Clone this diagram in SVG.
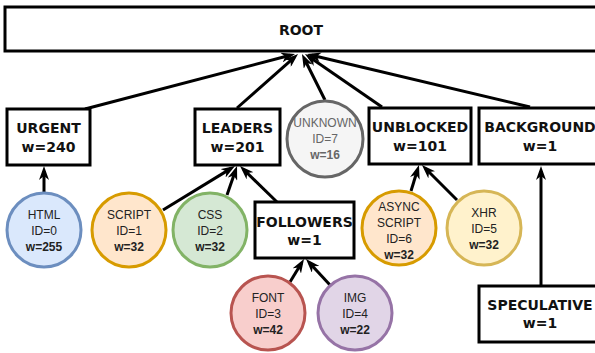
<svg xmlns="http://www.w3.org/2000/svg" width="595" height="353" viewBox="0 0 595 353">
<style>
.box{fill:#fff;stroke:#000;stroke-width:3}
.bt{font-family:"DejaVu Sans",Verdana,sans-serif;font-weight:bold;font-size:14px;fill:#111;text-anchor:middle}
.ct{font-family:"Liberation Sans",Arial,sans-serif;font-size:12px;fill:#222;text-anchor:middle}
.ct .b{font-weight:bold}
.c{stroke-width:3}
.e{stroke:#000;stroke-width:3;fill:none;marker-end:url(#ah)}
</style>
<defs>
<marker id="ah" markerUnits="userSpaceOnUse" markerWidth="14" markerHeight="10" refX="9" refY="5" orient="auto">
<path d="M0,0 L14,5 L0,10 L4,5 Z" fill="#000"/>
</marker>
</defs>
<g id="connectors">
<line class="e" x1="85" y1="109" x2="290.2" y2="55.3"/>
<line class="e" x1="237" y1="108" x2="294.3" y2="57.3"/>
<line class="e" x1="325" y1="100" x2="304.2" y2="58.5"/>
<line class="e" x1="382" y1="107" x2="309.1" y2="56.8"/>
<line class="e" x1="530" y1="107" x2="311.9" y2="55.2"/>
<line class="e" x1="44" y1="192" x2="44" y2="171"/>
<line class="e" x1="163" y1="210" x2="230.7" y2="168.6"/>
<line class="e" x1="227" y1="195" x2="235.4" y2="170.7"/>
<line class="e" x1="277" y1="202" x2="243.6" y2="169.5"/>
<line class="e" x1="411" y1="191" x2="417.5" y2="169.8"/>
<line class="e" x1="457" y1="200" x2="425.5" y2="168.5"/>
<line class="e" x1="290" y1="282" x2="301.4" y2="263.3"/>
<line class="e" x1="330" y1="285" x2="309.4" y2="262.7"/>
<line class="e" x1="541" y1="285" x2="541" y2="171"/>
</g>
<g id="root">
<rect class="box" x="5" y="7" width="600" height="44"/>
<text class="bt" x="301" y="35">ROOT</text>
</g>
<g id="urgent">
<rect class="box" x="7" y="109" width="83" height="56"/>
<text class="bt" x="48.5" y="133">URGENT</text>
<text class="bt" x="48.5" y="152">w=240</text>
</g>
<g id="leaders">
<rect class="box" x="195" y="109" width="85" height="56"/>
<text class="bt" x="237.5" y="133">LEADERS</text>
<text class="bt" x="237.5" y="152">w=201</text>
</g>
<g id="unblocked">
<rect class="box" x="369" y="108" width="102" height="56"/>
<text class="bt" x="420" y="132">UNBLOCKED</text>
<text class="bt" x="420" y="151">w=101</text>
</g>
<g id="background">
<rect class="box" x="479" y="108" width="122" height="56"/>
<text class="bt" x="540" y="132">BACKGROUND</text>
<text class="bt" x="540" y="151">w=1</text>
</g>
<g id="followers">
<rect class="box" x="255" y="202" width="99" height="56"/>
<text class="bt" x="304.5" y="227">FOLLOWERS</text>
<text class="bt" x="304.5" y="245">w=1</text>
</g>
<g id="speculative">
<rect class="box" x="479" y="286" width="122" height="56"/>
<text class="bt" x="540" y="310">SPECULATIVE</text>
<text class="bt" x="540" y="328">w=1</text>
</g>
<g id="unknown">
<circle class="c" cx="325" cy="139" r="38" fill="#f5f5f5" stroke="#666666"/>
<text class="ct" style="fill:#666" x="325"><tspan x="325" y="127">UNKNOWN</tspan><tspan x="325" y="143">ID=7</tspan><tspan class="b" x="325" y="159">w=16</tspan></text>
</g>
<g id="html">
<circle class="c" cx="44" cy="230" r="37" fill="#dae8fc" stroke="#6c8ebf"/>
<text class="ct"><tspan x="44" y="219">HTML</tspan><tspan x="44" y="235">ID=0</tspan><tspan class="b" x="44" y="251">w=255</tspan></text>
</g>
<g id="script">
<circle class="c" cx="129" cy="230" r="37" fill="#ffe6cc" stroke="#d79b00"/>
<text class="ct"><tspan x="129" y="219">SCRIPT</tspan><tspan x="129" y="235">ID=1</tspan><tspan class="b" x="129" y="251">w=32</tspan></text>
</g>
<g id="css">
<circle class="c" cx="210" cy="230" r="37" fill="#d5e8d4" stroke="#82b366"/>
<text class="ct"><tspan x="210" y="219">CSS</tspan><tspan x="210" y="235">ID=2</tspan><tspan class="b" x="210" y="251">w=32</tspan></text>
</g>
<g id="async-script">
<circle class="c" cx="399" cy="228" r="37" fill="#ffe6cc" stroke="#d79b00"/>
<text class="ct"><tspan x="399" y="211">ASYNC</tspan><tspan x="399" y="227">SCRIPT</tspan><tspan x="399" y="243">ID=6</tspan><tspan class="b" x="399" y="259">w=32</tspan></text>
</g>
<g id="xhr">
<circle class="c" cx="484" cy="228" r="37" fill="#fff2cc" stroke="#d6b656"/>
<text class="ct"><tspan x="484" y="217">XHR</tspan><tspan x="484" y="233">ID=5</tspan><tspan class="b" x="484" y="249">w=32</tspan></text>
</g>
<g id="font">
<circle class="c" cx="268" cy="313" r="37" fill="#f8cecc" stroke="#b85450"/>
<text class="ct"><tspan x="268" y="302">FONT</tspan><tspan x="268" y="318">ID=3</tspan><tspan class="b" x="268" y="334">w=42</tspan></text>
</g>
<g id="img">
<circle class="c" cx="355" cy="313" r="37" fill="#e1d5e7" stroke="#9673a6"/>
<text class="ct"><tspan x="355" y="302">IMG</tspan><tspan x="355" y="318">ID=4</tspan><tspan class="b" x="355" y="334">w=22</tspan></text>
</g>
</svg>
